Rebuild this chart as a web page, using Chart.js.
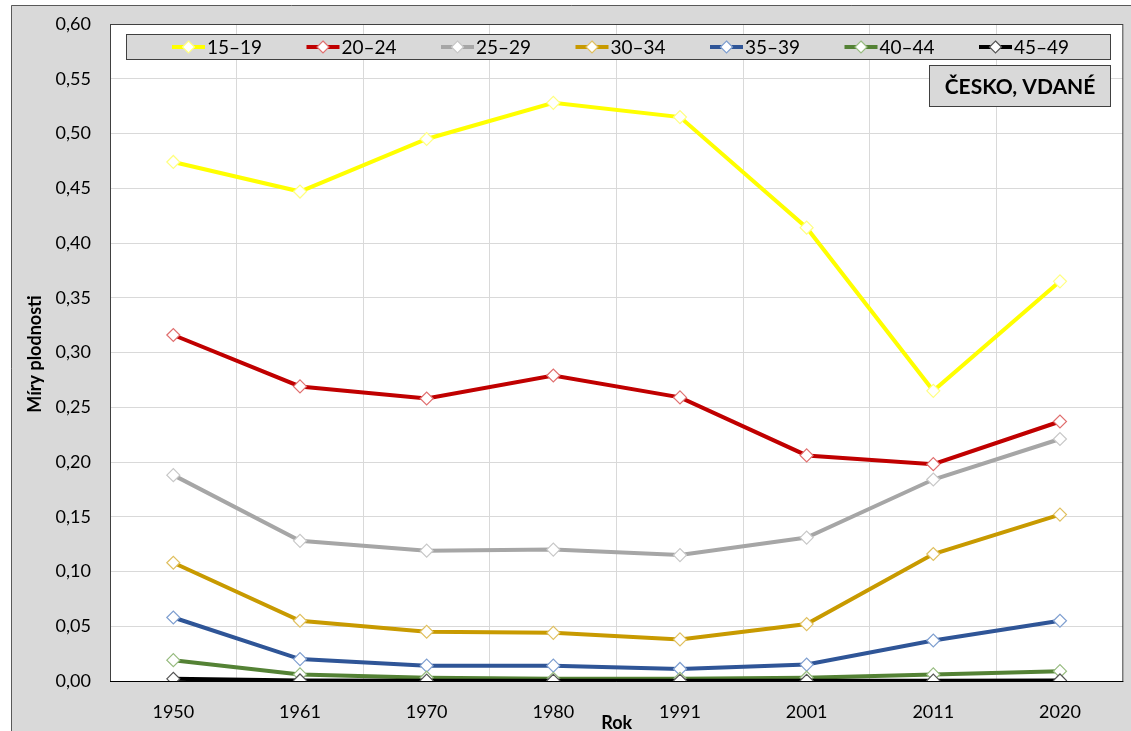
<!DOCTYPE html>
<html>
<head>
<meta charset="utf-8">
<script src="https://cdn.jsdelivr.net/npm/chart.js@4"></script>
<style>
  html, body { margin: 0; padding: 0; background: #fff; overflow: hidden; }
  canvas { display: block; }
</style>
</head>
<body>
<canvas id="chart" width="1131" height="731"></canvas>
<script>
// data
const years = ['1950', '1961', '1970', '1980', '1991', '2001', '2011', '2020'];
const ageGroups = ['15–19', '20–24', '25–29', '30–34', '35–39', '40–44', '45–49'];

const rates15_19 = [0.474, 0.447, 0.495, 0.528, 0.515, 0.414, 0.265, 0.365];
const rates20_24 = [0.316, 0.269, 0.258, 0.279, 0.259, 0.206, 0.198, 0.237];
const rates25_29 = [0.188, 0.128, 0.119, 0.120, 0.115, 0.131, 0.184, 0.221];
const rates30_34 = [0.108, 0.055, 0.045, 0.044, 0.038, 0.052, 0.116, 0.152];
const rates35_39 = [0.058, 0.020, 0.014, 0.014, 0.011, 0.015, 0.037, 0.055];
const rates40_44 = [0.019, 0.006, 0.003, 0.002, 0.002, 0.003, 0.006, 0.009];
const rates45_49 = [0.002, 0.0005, 0.0003, 0.0002, 0.0002, 0.0002, 0.0003, 0.0005];

const yTickMin = 0;
const yTickMax = 0.6;
const yTickStep = 0.05;

const boxLabel = 'ČESKO, VDANÉ';
const xTitle = 'Rok';
const yTitle = 'Míry plodnosti';

const allRates = [rates15_19, rates20_24, rates25_29, rates30_34, rates35_39, rates40_44, rates45_49];
const lineColors = ['#ffff00', '#c00000', '#a6a6a6', '#c89a00', '#2f5597', '#548235', '#000000'];
const markerColors = ['#ffff80', '#e07070', '#c8c8c8', '#e0c060', '#7f9fd0', '#98bc80', '#555555'];

const FONT = 'Lato, "Open Sans", sans-serif';

function drawDiamond(ctx, x, y, r, stroke) {
  ctx.beginPath();
  ctx.moveTo(x, y - r);
  ctx.lineTo(x + r, y);
  ctx.lineTo(x, y + r);
  ctx.lineTo(x - r, y);
  ctx.closePath();
  ctx.fillStyle = '#fff';
  ctx.fill();
  ctx.strokeStyle = stroke;
  ctx.lineWidth = 1.2;
  ctx.stroke();
}

const framePlugin = {
  id: 'frame',
  beforeDraw(chart) {
    const { ctx, chartArea: a } = chart;
    ctx.save();
    ctx.fillStyle = '#fff';
    ctx.fillRect(0, 0, chart.width, chart.height);
    ctx.fillStyle = '#d9d9d9';
    ctx.fillRect(11, 5, chart.width - 11, chart.height - 5);
    ctx.strokeStyle = '#595959';
    ctx.lineWidth = 1;
    ctx.beginPath();
    ctx.moveTo(11.5, chart.height);
    ctx.lineTo(11.5, 5.5);
    ctx.lineTo(chart.width, 5.5);
    ctx.stroke();
    ctx.fillStyle = '#fff';
    ctx.fillRect(a.left, a.top, a.right - a.left, a.bottom - a.top);
    ctx.restore();
  },
  beforeDatasetsDraw(chart) {
    const { ctx, chartArea: a } = chart;
    ctx.save();
    ctx.strokeStyle = '#404040';
    ctx.lineWidth = 1;
    ctx.strokeRect(a.left + 0.5, a.top + 0.5, a.right - a.left - 1, a.bottom - a.top);
    ctx.strokeStyle = '#000';
    ctx.beginPath();
    ctx.moveTo(a.left, a.bottom + 0.5);
    ctx.lineTo(a.right, a.bottom + 0.5);
    ctx.stroke();
    ctx.restore();
  },
  afterDraw(chart) {
    const { ctx, chartArea: a } = chart;
    ctx.save();

    // legend box
    ctx.fillStyle = '#d9d9d9';
    ctx.fillRect(126, 34, 984, 25);
    ctx.strokeStyle = '#404040';
    ctx.lineWidth = 1;
    ctx.strokeRect(126.5, 34.5, 984, 25);
    ctx.font = '19px ' + FONT;
    ctx.textBaseline = 'middle';
    ctx.textAlign = 'left';
    ageGroups.forEach((g, i) => {
      const x0 = 172 + i * 134.5;
      const y0 = 47;
      ctx.strokeStyle = lineColors[i];
      ctx.lineWidth = 4;
      ctx.beginPath();
      ctx.moveTo(x0, y0);
      ctx.lineTo(x0 + 33, y0);
      ctx.stroke();
      drawDiamond(ctx, x0 + 16.5, y0, 6, markerColors[i]);
      ctx.fillStyle = '#000';
      ctx.fillText(g, x0 + 35, y0 + 1);
    });

    // country label box
    ctx.fillStyle = '#d9d9d9';
    ctx.fillRect(929, 65, 182, 42);
    ctx.strokeStyle = '#404040';
    ctx.lineWidth = 1;
    ctx.strokeRect(929.5, 65.5, 181, 41);
    ctx.fillStyle = '#000';
    ctx.font = 'bold 21px ' + FONT;
    ctx.textAlign = 'center';
    ctx.fillText(boxLabel, 1020, 87);

    // axis titles
    ctx.font = 'bold 18px ' + FONT;
    ctx.fillText(xTitle, (a.left + a.right) / 2, 723);
    ctx.translate(35, 354);
    ctx.rotate(-Math.PI / 2);
    ctx.font = 'bold 18px ' + FONT;
    ctx.fillText(yTitle, 0, 0);
    ctx.restore();
  }
};

new Chart(document.getElementById('chart'), {
  type: 'line',
  data: {
    labels: years,
    datasets: allRates.map((rates, i) => ({
      label: ageGroups[i],
      data: rates,
      borderColor: lineColors[i],
      borderWidth: 4,
      pointStyle: 'rectRot',
      pointRadius: 6.5,
      pointBackgroundColor: '#fff',
      pointBorderColor: markerColors[i],
      pointBorderWidth: 1.2,
      tension: 0,
      order: ageGroups.length - 1 - i
    }))
  },
  options: {
    responsive: false,
    devicePixelRatio: 1,
    animation: false,
    layout: { padding: { left: 11, top: 24, right: 4, bottom: 0 } },
    plugins: {
      legend: { display: false },
      tooltip: { enabled: false }
    },
    scales: {
      x: {
        offset: true,
        grid: { offset: true, color: '#d9d9d9', drawTicks: false },
        border: { display: false },
        ticks: { color: '#000', padding: 20, font: { family: FONT, size: 18 } },
        afterFit(scale) { scale.height = 50; }
      },
      y: {
        min: yTickMin,
        max: yTickMax,
        grid: { color: '#d9d9d9', drawTicks: false },
        border: { display: false },
        ticks: {
          stepSize: yTickStep,
          color: '#000',
          padding: 19,
          font: { family: FONT, size: 18 },
          callback: v => v.toFixed(2).replace('.', ',')
        },
        afterFit(scale) {
          scale.width = 99;
          scale.paddingTop = 0;
          scale.paddingBottom = 0;
        }
      }
    }
  },
  plugins: [framePlugin]
});
</script>
</body>
</html>
